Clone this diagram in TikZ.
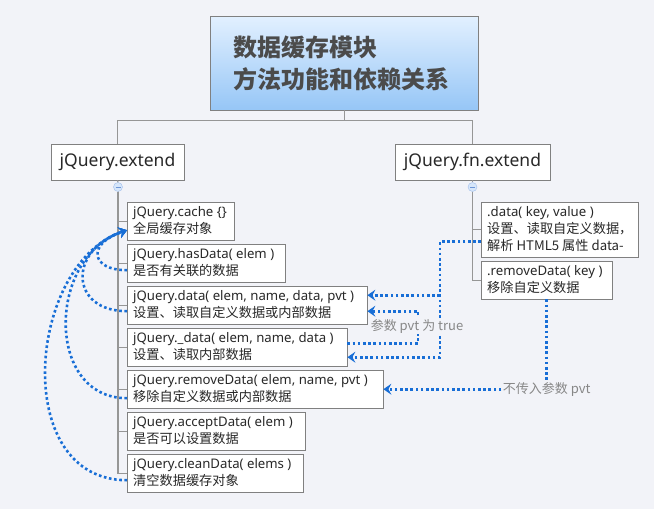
\documentclass[tikz,border=0pt]{standalone}
\usepackage{fontspec}
\setmainfont{Noto Sans}
\newfontfamily\cjk{Noto Sans CJK SC}
\usetikzlibrary{arrows.meta,calc}
\definecolor{bg}{RGB}{242,243,248}
\definecolor{bord}{RGB}{128,128,128}
\definecolor{treeline}{RGB}{150,150,150}
\definecolor{depblue}{RGB}{24,110,214}
\definecolor{txt}{RGB}{40,40,40}
\definecolor{lblgray}{RGB}{135,135,135}
\definecolor{titlegray}{RGB}{75,75,75}
\definecolor{roottop}{RGB}{226,240,255}
\definecolor{rootbot}{RGB}{150,198,246}
\definecolor{colfill}{RGB}{214,230,250}
\definecolor{coldraw}{RGB}{160,190,236}
\definecolor{colminus}{RGB}{110,150,215}
\newcommand\boxlines[2]{\makebox[#1][l]{\begin{tabular}{@{}l@{}}#2\end{tabular}}}
\begin{document}
\begin{tikzpicture}[x=1pt,y=-1pt,
  topbox/.style={draw=bord, fill=white, minimum height=36pt, inner sep=0pt, text=txt,
    font=\fontsize{17.5}{20}\selectfont},
  child/.style={draw=bord, fill=white, anchor=north west, minimum height=38pt,
    inner xsep=6pt, inner ysep=0pt, text=txt,
    font=\fontsize{13.2}{17}\selectfont},
  collapse/.style={circle, draw=coldraw, fill=colfill, minimum size=9pt, inner sep=0pt,
    path picture={\draw[colminus, line width=0.8pt]
      ([xshift=-2.5pt]path picture bounding box.center) --
      ([xshift=2.5pt]path picture bounding box.center);}},
  tree/.style={draw=treeline, line width=1.2pt},
  dep/.style={draw=depblue, line width=2.6pt, dash pattern=on 2.6pt off 2.6pt,
    -{Stealth[length=8pt, width=11pt, inset=3pt]}},
  deplabel/.style={fill=bg, inner sep=1pt, text=lblgray, font=\cjk\fontsize{13}{15}\selectfont}
]
\fill[bg] (0,0) rectangle (654,509);
\useasboundingbox (0,0) rectangle (654,509);

% root
\node[draw=bord, top color=roottop, bottom color=rootbot, anchor=north west,
  minimum width=268pt, minimum height=94pt, text width=222pt, inner xsep=23pt,
  align=left, text=titlegray, font=\cjk\bfseries\fontsize{24}{32}\selectfont]
  (root) at (210,16) {数据缓存模块\\方法功能和依赖关系};

% first level
\node[topbox, minimum width=133pt] (ext) at (117.5,162) {jQuery.extend};
\node[topbox, minimum width=155pt] (fn) at (472.5,162) {jQuery.fn.extend};
\coordinate (j) at ($(root.south)+(0,10)$);
\draw[tree] (root.south) -- (j) -| (ext.north);
\draw[tree] (j) -| (fn.north);

\node[collapse] (c1) at (118,187) {};
\node[collapse] (c2) at (472.5,187) {};
\draw[tree] (ext.south) -- (c1.north);
\draw[tree] (fn.south) -- (c2.north);

% jQuery.extend children
\node[child] (cache)   at (127,202) {\boxlines{95pt}{jQuery.cache \{\}\\{\cjk 全局缓存对象}}};
\node[child] (hasdata) at (127,244) {\boxlines{146pt}{jQuery.hasData( elem )\\{\cjk 是否有关联的数据}}};
\node[child] (data)    at (127,286) {\boxlines{228pt}{jQuery.data( elem, name, data, pvt )\\{\cjk 设置、读取自定义数据或内部数据}}};
\node[child] (udata)   at (127,328) {\boxlines{208pt}{jQuery.\_data( elem, name, data )\\{\cjk 设置、读取内部数据}}};
\node[child] (rm)      at (127,370) {\boxlines{244pt}{jQuery.removeData( elem, name, pvt )\\{\cjk 移除自定义数据或内部数据}}};
\node[child] (accept)  at (127,412) {\boxlines{166pt}{jQuery.acceptData( elem )\\{\cjk 是否可以设置数据}}};
\node[child] (clean)   at (127,454) {\boxlines{164pt}{jQuery.cleanData( elems )\\{\cjk 清空数据缓存对象}}};
\foreach \n in {cache,hasdata,data,udata,rm,accept,clean}
  \draw[tree] (c1.south) |- (\n.west);

% jQuery.fn.extend children
\node[child, minimum height=55pt] (fndata) at (481,202)
  {\boxlines{145pt}{.data( key, value )\\{\cjk 设置、读取自定义数据，}\\{\cjk 解析 HTML5 属性 data-}}};
\node[child] (rmk) at (481,261) {\boxlines{119pt}{.removeData( key )\\{\cjk 移除自定义数据}}};
\foreach \n in {fndata,rmk}
  \draw[tree] (c2.south) |- (\n.west);

% dependencies on the right
\coordinate (fdA) at ($(fndata.west)+(0,12)$);
\coordinate (vA) at (440,0);
\coordinate (dA) at ($(data.east)+(0,-10)$);
\coordinate (udA) at ($(udata.east)+(0,10)$);
\draw[dep] (fdA) -- (fdA -| vA) |- (udA);
\draw[dep] (dA -| vA) -- (dA);

\coordinate (udB) at ($(udata.east)+(0,-4)$);
\coordinate (dB) at ($(data.east)+(0,6)$);
\coordinate (vB) at (418,0);
\draw[dep] (udB) -- (udB -| vB) |- (dB);
\node[deplabel] (l1) at (417,326) {参数 pvt 为 true};

\draw[dep] (rmk.south) |- (rm.east);
\node[deplabel] (l2) at (rmk.south |- rm.east) {不传入参数 pvt};

% dependencies on the left to jQuery.cache
\coordinate (cin) at ($(cache.west)+(0,9)$);
\coordinate (hs) at ($(hasdata.west)+(0,7)$);
\coordinate (ds) at ($(data.west)+(0,6)$);
\coordinate (rs) at ($(rm.west)+(0,9)$);
\coordinate (cs) at ($(clean.west)+(0,7)$);
\draw[dep] (hs) .. controls +(-37,0) and +(-40,13) .. (cin);
\draw[dep] (ds) .. controls +(-57,0) and +(-60,20) .. (cin);
\draw[dep] (rs) .. controls +(-82,0) and +(-80,26) .. (cin);
\draw[dep] (cs) .. controls +(-117,0) and +(-100,33) .. (cin);
\end{tikzpicture}
\end{document}
